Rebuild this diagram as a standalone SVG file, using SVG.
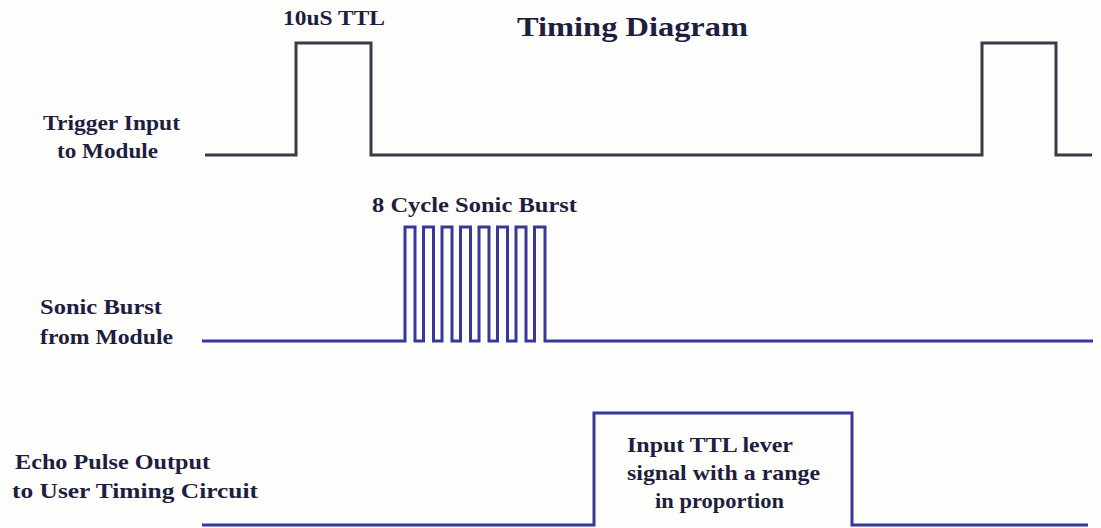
<svg xmlns="http://www.w3.org/2000/svg" width="1101" height="528" viewBox="0 0 1101 528">
<style>
text{font-family:"Liberation Serif","Times New Roman",serif;font-weight:bold;fill:#1e1e40}
.lbl{font-size:21px}
.wave{fill:none;stroke-width:3;stroke-linejoin:miter}
.trig{stroke:#3a3a48}
.blue{stroke:#38389a}
</style>
<rect width="1101" height="528" fill="#fdfdfb"/>
<g id="title">
<text x="517" y="36" font-size="28" textLength="231" lengthAdjust="spacingAndGlyphs">Timing  Diagram</text>
</g>
<g id="trigger">
<text class="lbl" x="43" y="130" textLength="137" lengthAdjust="spacingAndGlyphs">Trigger Input</text>
<text class="lbl" x="57" y="158" textLength="101" lengthAdjust="spacingAndGlyphs">to Module</text>
<text x="283" y="25" font-size="22" textLength="102" lengthAdjust="spacingAndGlyphs">10uS TTL</text>
<path class="wave trig" d="M205 155 H296 V43 H371 V155 H982 V43 H1056 V155 H1092"/>
</g>
<g id="sonic">
<text class="lbl" x="40" y="314" textLength="122" lengthAdjust="spacingAndGlyphs">Sonic Burst</text>
<text class="lbl" x="40" y="344" textLength="133" lengthAdjust="spacingAndGlyphs">from Module</text>
<text class="lbl" x="372" y="212" textLength="205" lengthAdjust="spacingAndGlyphs">8 Cycle Sonic Burst</text>
<path class="wave blue" d="M202 341 H405 V227 H415 V341 H423.5 V227 H433.5 V341 H442 V227 H452 V341 H460.5 V227 H470.5 V341 H479 V227 H489 V341 H497.5 V227 H507.5 V341 H516 V227 H526 V341 H534.5 V227 H545 V341 H1093"/>
</g>
<g id="echo">
<text class="lbl" x="15" y="469" textLength="195" lengthAdjust="spacingAndGlyphs">Echo Pulse Output</text>
<text class="lbl" x="12" y="498" textLength="246" lengthAdjust="spacingAndGlyphs">to User Timing Circuit</text>
<path class="wave blue" d="M202 525 H594 V413 H852 V525 H1088"/>
<text class="lbl" x="627" y="452" textLength="166" lengthAdjust="spacingAndGlyphs">Input TTL lever</text>
<text class="lbl" x="627" y="480" textLength="193" lengthAdjust="spacingAndGlyphs">signal with a range</text>
<text class="lbl" x="655" y="508" textLength="129" lengthAdjust="spacingAndGlyphs">in proportion</text>
</g>
<g id="connectors"></g>
</svg>
